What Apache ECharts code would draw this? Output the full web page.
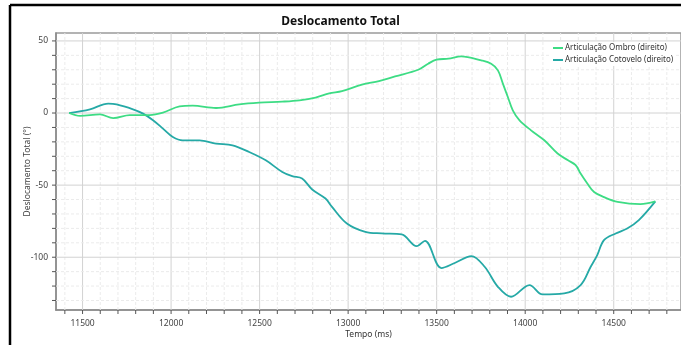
<!DOCTYPE html>
<html>
<head>
<meta charset="utf-8">
<script src="https://cdn.jsdelivr.net/npm/echarts@6/dist/echarts.min.js"></script>
<style>
html,body{margin:0;padding:0;background:#fff;}
#chart{width:681px;height:345px;}
</style>
</head>
<body>
<div id="chart"></div>
<script>
const titleText = "Deslocamento Total";
const seriesNames = ["Articulação Ombro (direito)", "Articulação Cotovelo (direito)"];
const xName = "Tempo (ms)";
const yName = "Deslocamento Total (°)";

const ombroT = [11424,11486,11598,11673,11767,11879,11954,12048,12122,12254,12385,12497,12628,12725,12816,12893,12965,13078,13174,13265,13396,13452,13499,13567,13639,13752,13808,13846,13874,13902,13930,13968,14033,14108,14183,14242,14285,14313,14351,14389,14445,14522,14651,14735];
const ombroV = [0,-2,-1,-3.5,-1.4,-1.4,0.3,4.6,5.1,3.5,6,7.2,7.9,8.8,10.7,13.6,15.2,19.7,22.2,25.4,30,34.2,37,37.7,39.3,36.5,34.2,29.6,20.4,11.1,1.9,-5.1,-12,-18.9,-28.1,-32.8,-36.2,-42,-48.9,-54.8,-58.3,-61.6,-63.2,-61.3];

const cotoveloT = [11424,11542,11645,11692,11785,11842,11898,11954,12010,12066,12160,12254,12347,12441,12535,12628,12684,12740,12797,12872,12909,12993,13097,13190,13302,13387,13434,13527,13602,13696,13771,13846,13920,14024,14098,14220,14313,14370,14407,14445,14511,14576,14642,14735];
const cotoveloV = [0,2.6,6.5,6,2.6,-0.4,-5,-10.8,-16.6,-18.9,-18.9,-21.2,-22.4,-27,-32.8,-40.9,-43.8,-45.4,-53,-59.3,-65.1,-76.6,-82.4,-83.5,-84.2,-92.3,-88.6,-107.5,-104,-99.2,-106.6,-120.5,-127.4,-119.3,-125.8,-125.1,-119.3,-106.6,-98.5,-88.1,-83.5,-80.1,-74.3,-61.3];

// axis ranges and tick values
const X_MIN = 11350, X_MAX = 14880;
const Y_MIN = -136.6, Y_MAX = 55.5;
const xTicks = [11400,11500,11600,11700,11800,11900,12000,12100,12200,12300,12400,12500,12600,12700,12800,12900,13000,13100,13200,13300,13400,13500,13600,13700,13800,13900,14000,14100,14200,14300,14400,14500,14600,14700,14800];
const xLabels = [11500,12000,12500,13000,13500,14000,14500];
const yTicks = [-130,-120,-110,-100,-90,-80,-70,-60,-50,-40,-30,-20,-10,0,10,20,30,40,50];
const yLabels = [-100,-50,0,50];

const colors = ["#3ddc84", "#25a9a6"];

const chart = echarts.init(document.getElementById('chart'), null, {renderer:'canvas'});
const zip = (t, v) => t.map((x, i) => [x, v[i]]);
const font = "'Noto Sans', 'Open Sans', sans-serif";
const MAJOR_C = '#d2d2d2', MINOR_C = '#ebebeb', TICK_C = '#555', LABEL_C = '#444';

function xGrid(params, api) {
  const v = api.value(0);
  const p0 = api.coord([v, Y_MIN]);
  const p1 = api.coord([v, Y_MAX]);
  const major = xLabels.indexOf(v) >= 0;
  const children = [
    {type: 'line', shape: {x1: p0[0], y1: p0[1], x2: p1[0], y2: p1[1]},
     style: {stroke: major ? MAJOR_C : MINOR_C, lineWidth: 1, lineDash: major ? null : [3, 2]}},
    {type: 'line', shape: {x1: p0[0], y1: p0[1], x2: p0[0], y2: p0[1] + 4},
     style: {stroke: TICK_C, lineWidth: 1}}
  ];
  if (major) {
    children.push({type: 'text', style: {text: String(v), x: p0[0], y: p0[1] + 9,
      textAlign: 'center', textVerticalAlign: 'top', align: 'center', verticalAlign: 'top',
      fontFamily: font, fontSize: 8.5, fill: LABEL_C}});
  }
  return {type: 'group', children};
}

function yGrid(params, api) {
  const v = api.value(1);
  const p0 = api.coord([X_MIN, v]);
  const p1 = api.coord([X_MAX, v]);
  const major = yLabels.indexOf(v) >= 0;
  const children = [
    {type: 'line', shape: {x1: p0[0], y1: p0[1], x2: p1[0], y2: p1[1]},
     style: {stroke: major ? MAJOR_C : MINOR_C, lineWidth: 1, lineDash: major ? null : [3, 2]}},
    {type: 'line', shape: {x1: p0[0] - 4, y1: p0[1], x2: p0[0], y2: p0[1]},
     style: {stroke: TICK_C, lineWidth: 1}}
  ];
  if (major) {
    children.push({type: 'text', style: {text: String(v), x: p0[0] - 8, y: p0[1],
      textAlign: 'right', textVerticalAlign: 'middle', align: 'right', verticalAlign: 'middle',
      fontFamily: font, fontSize: 8.5, fill: LABEL_C}});
  }
  return {type: 'group', children};
}

chart.setOption({
  animation: false,
  backgroundColor: '#fff',
  title: {
    text: titleText, left: 'center', top: 11,
    textStyle: {fontFamily: font, fontSize: 12, fontWeight: 'bold', color: '#111'}
  },
  legend: {
    orient: 'vertical', left: 551, top: 42, itemWidth: 10, itemHeight: 2, itemGap: 4,
    icon: 'rect', backgroundColor: '#fff', padding: [2, 2, 2, 2],
    textStyle: {fontFamily: font, fontSize: 8, color: '#333', padding: [0,0,0,-3]},
    data: seriesNames
  },
  grid: {left: 56, top: 33, right: -3, bottom: 35, show: true, borderColor: '#9a9a9a', borderWidth: 1.5, backgroundColor: '#fff'},
  xAxis: {
    type: 'value', min: X_MIN, max: X_MAX,
    name: xName, nameLocation: 'middle', nameGap: 20,
    nameTextStyle: {fontFamily: font, fontSize: 8.5, color: '#333'},
    axisLine: {show: true, onZero: false, lineStyle: {color: '#8a8a8a', width: 1.5}},
    axisTick: {show: false}, axisLabel: {show: false}, splitLine: {show: false}
  },
  yAxis: {
    type: 'value', min: Y_MIN, max: Y_MAX,
    name: yName, nameLocation: 'middle', nameGap: 24, nameRotate: 90,
    nameTextStyle: {fontFamily: font, fontSize: 8.5, color: '#444'},
    axisLine: {show: true, onZero: false, lineStyle: {color: '#8a8a8a', width: 1.5}},
    axisTick: {show: false}, axisLabel: {show: false}, splitLine: {show: false}
  },
  series: [
    {name: '_xgrid', type: 'custom', silent: true, clip: false, z: 1,
     data: xTicks.map(v => [v, Y_MIN]), renderItem: xGrid},
    {name: '_ygrid', type: 'custom', silent: true, clip: false, z: 1,
     data: yTicks.map(v => [X_MIN, v]), renderItem: yGrid},
    {name: seriesNames[0], type: 'line', data: zip(ombroT, ombroV), smooth: 0.35, showSymbol: false, color: colors[0], lineStyle: {width: 1.8}, z: 3},
    {name: seriesNames[1], type: 'line', data: zip(cotoveloT, cotoveloV), smooth: 0.35, showSymbol: false, color: colors[1], lineStyle: {width: 1.8}, z: 2}
  ],
  graphic: [
    {type: 'line', shape: {x1: 10, y1: 5, x2: 681, y2: 5}, style: {stroke: '#000', lineWidth: 2.5}, z: 100},
    {type: 'line', shape: {x1: 10, y1: 5, x2: 10, y2: 345}, style: {stroke: '#000', lineWidth: 2.5}, z: 100}
  ]
});
</script>
</body>
</html>
